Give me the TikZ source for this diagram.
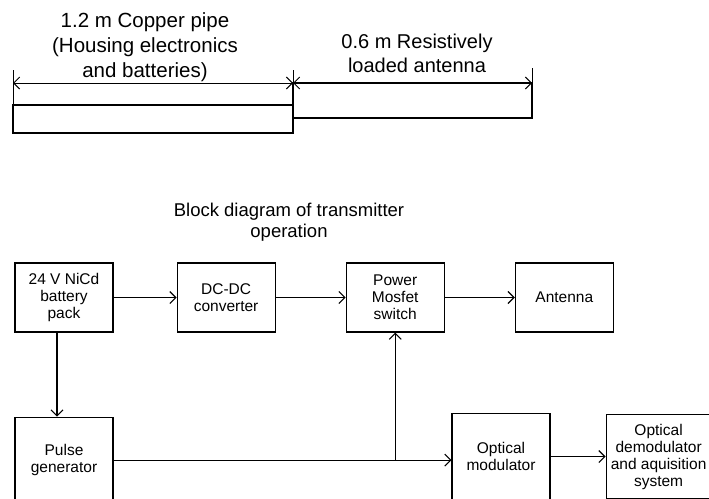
\documentclass[tikz,border=0pt]{standalone}
\usepackage{fontspec}
\setmainfont{Liberation Sans}
\usetikzlibrary{positioning, arrows.meta}

\begin{document}
\begin{tikzpicture}[x=1pt, y=-1pt, node distance=0mm]
      \tikzset{
        block/.style={
          draw=black, line width=1.1pt, minimum width=98pt, minimum height=69pt,
          align=center, inner sep=0pt, font=\fontsize{15.5}{17}\selectfont
        },
        tall/.style={block, minimum height=86pt},
        arr/.style={line width=1.1pt, -{Straight Barb[length=6pt,width=12pt]}},
        dim/.style={line width=1pt,
          {Straight Barb[length=6pt,width=12pt]}-{Straight Barb[length=6pt,width=12pt]}},
        note/.style={align=center, inner sep=0pt}
      }
      \useasboundingbox (0,0) rectangle (709,498);
      \clip (0,0) rectangle (709,498);

      % pipe and antenna
      \draw[line width=1.1pt] (13,105) rectangle (293,133);
      \draw[line width=1.1pt] (293,83) rectangle (532,118);
      \draw[line width=1pt] (13,70) -- (13,105) (293,70) -- (293,83) (532,68) -- (532,83);
      \draw[dim] (13,83) -- (293,83);
      \draw[dim] (293,83) -- (532,83);
      \node[note, font=\fontsize{20.5}{25}\selectfont] (pipetxt) at (145,47)
        {1.2 m Copper pipe\\(Housing electronics\\and batteries)};
      \node[note, font=\fontsize{20}{24}\selectfont] (anttxt) at (417,53)
        {0.6 m Resistively\\loaded antenna};

      % block diagram
      \node[note, font=\fontsize{18.5}{21.5}\selectfont] (title) at (289,222)
        {Block diagram of transmitter\\operation};
      \node[block] (batt) at (64,297.5) {24 V NiCd\\battery\\pack};
      \node[block, right=63pt of batt] (dcdc) {DC-DC\\converter};
      \node[block, right=70pt of dcdc] (mosfet) {Power\\Mosfet\\switch};
      \node[block, right=70pt of mosfet] (ant) {Antenna};
      \node[tall, below=84pt of batt] (pulse) {Pulse\\generator};
      \node[tall] (optmod) at (501,456.5) {Optical\\modulator};
      \node[tall, minimum width=105pt, minimum height=84pt, right=55pt of optmod] (optdem)
        {Optical\\demodulator\\and aquisition\\system};

      \draw[arr] (batt) -- (dcdc);
      \draw[arr] (dcdc) -- (mosfet);
      \draw[arr] (mosfet) -- (ant);
      \draw[arr] ([xshift=-7pt]batt.south) -- ([xshift=-7pt]pulse.north);
      \draw[arr] (pulse.east) -- (pulse.east -| optmod.west);
      \coordinate (jn) at (pulse.east -| mosfet.south);
      \draw[arr] (jn) -- (mosfet.south);
      \draw[arr] (optmod) -- (optdem);
    \end{tikzpicture}
\end{document}
